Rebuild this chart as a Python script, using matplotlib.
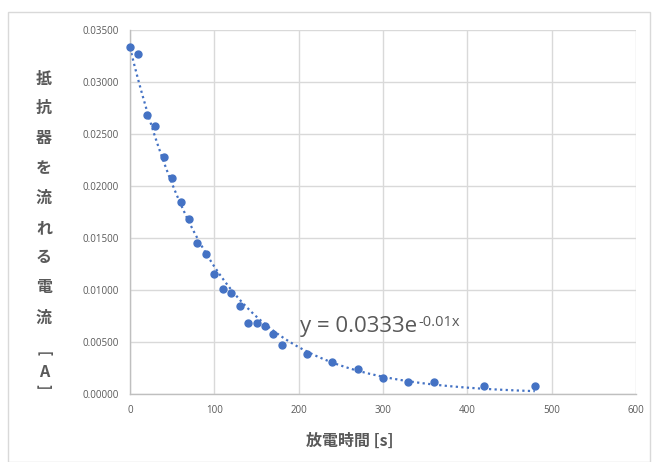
import numpy as np
import matplotlib
matplotlib.use("Agg")
import matplotlib.pyplot as plt
from matplotlib.patches import Rectangle

# discharge time [s] and resistor current [A]
time_s = [0, 10, 20, 30, 40, 50, 60, 70, 80, 90, 100, 110, 120, 130, 140, 150,
          160, 170, 180, 210, 240, 270, 300, 330, 360, 420, 480]
current_a = [0.03340, 0.03270, 0.02680, 0.02575, 0.02275, 0.02075, 0.01850,
             0.01685, 0.01450, 0.01345, 0.01150, 0.01010, 0.00975, 0.00845,
             0.00685, 0.00685, 0.00650, 0.00578, 0.00475, 0.00380, 0.00310,
             0.00245, 0.00150, 0.00118, 0.00115, 0.00080, 0.00080]

# trendline as printed on the chart: y = a * exp(b * x)
trend_a = 0.0333
trend_b = -0.01

x_ticks = [0, 100, 200, 300, 400, 500, 600]
y_ticks = [0.0, 0.005, 0.010, 0.015, 0.020, 0.025, 0.030, 0.035]
ylabel_chars = ["抵", "抗", "器", "を", "流", "れ", "る", "電", "流", "[", "A", "]"]
xlabel = "放電時間 [s]"

blue = "#4472C4"
grey_txt = "#595959"
grid_c = "#D9D9D9"
jp = ["Noto Sans CJK JP", "DejaVu Sans"]

fig = plt.figure(figsize=(6.52, 4.62), dpi=100)
W, H = 652, 462
fig.patches.append(Rectangle((8 / W, 0), 1 - 10 / W, 1 - 12 / H, transform=fig.transFigure,
                             fill=False, edgecolor="#D9D9D9", linewidth=1))

ax = fig.add_axes([130 / W, 1 - 394 / H, 506 / W, 364 / H])
ax.set_xlim(0, 600)
ax.set_ylim(0, 0.035)
ax.set_xticks(x_ticks)
ax.set_yticks(y_ticks)
ax.set_xticklabels([str(v) for v in x_ticks])
ax.set_yticklabels(["%.5f" % v for v in y_ticks])
ax.tick_params(length=0, labelsize=7, labelcolor=grey_txt, pad=8)
for lab in ax.get_xticklabels() + ax.get_yticklabels():
    lab.set_family("Open Sans")
ax.grid(True, color=grid_c, linewidth=1)
ax.set_axisbelow(True)
for s in ["top", "right"]:
    ax.spines[s].set_visible(False)
for s in ["left", "bottom"]:
    ax.spines[s].set_color("#BFBFBF")
    ax.spines[s].set_linewidth(1)

tt = np.linspace(0, max(time_s), 300)
ax.plot(tt, trend_a * np.exp(trend_b * tt), linestyle=(0, (1, 1.5)), color=blue,
        linewidth=1.6, zorder=2)
ax.plot(time_s, current_a, "o", color=blue, markersize=5, zorder=3, clip_on=False)

# trendline equation, base text plus superscript placed after it
eq = ax.text(202, 0.0065, "y = 0.0333e", fontsize=16, color=grey_txt,
             va="center", ha="left", family="Open Sans")
fig.canvas.draw()
bb = eq.get_window_extent(fig.canvas.get_renderer())
ax.annotate("-0.01x", xy=(bb.x1, bb.y1), xycoords="figure pixels",
            xytext=(1, 0.5), textcoords="offset points", fontsize=10.5,
            color=grey_txt, va="top", ha="left", family="Open Sans")

# vertical y label, one character at a time
ys = [79, 108, 138, 168, 198, 228, 257, 287, 318, 354, 372, 387]
for ch, yp in zip(ylabel_chars, ys):
    if ch in ("[", "]"):
        fig.text(44 / W, 1 - yp / H, ch, ha="center", va="center", fontsize=10,
                 fontweight="bold", color=grey_txt, family=jp, rotation=-90)
    else:
        fig.text(44 / W, 1 - yp / H, ch, ha="center", va="center", fontsize=11.5,
                 fontweight="bold", color=grey_txt, family=jp)

fig.text(350 / W, 1 - 441 / H, xlabel, ha="center", va="center", fontsize=11.5,
         fontweight="bold", color=grey_txt, family=jp)

fig.savefig("out.png", dpi=100)
